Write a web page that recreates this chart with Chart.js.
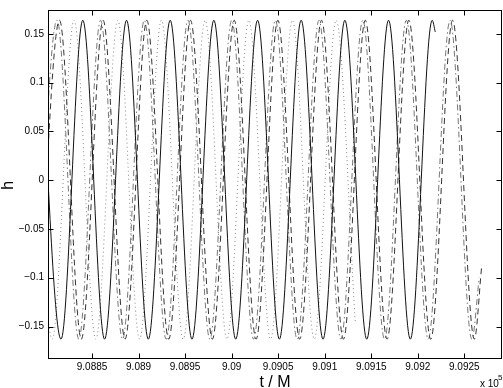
<!DOCTYPE html>
<html>
<head>
<meta charset="utf-8">
<script src="https://cdn.jsdelivr.net/npm/chart.js@4"></script>
<style>
  html, body { margin: 0; padding: 0; background: #fff; }
  canvas { display: block; }
</style>
</head>
<body>
<canvas id="myChart" width="503" height="388"></canvas>
<script>
// Extrema of each waveform (t in M, h)
const solidT = [908793.2, 908816.7, 908840.1, 908863.5, 908887.1, 908910.5, 908934.0, 908957.4, 908980.9, 909004.4,
                909027.9, 909051.3, 909074.7, 909098.2, 909121.7, 909145.2, 909168.6, 909192.0, 909215.5, 909218.8];
const solidH = [0.164, -0.163, 0.164, -0.163, 0.164, -0.163, 0.164, -0.163, 0.164, -0.163,
                0.164, -0.163, 0.164, -0.163, 0.164, -0.163, 0.164, -0.163, 0.164, 0.152];

const dashT = [908791.6, 908815.1, 908838.5, 908861.9, 908885.5, 908908.9, 908932.4, 908955.8, 908979.3, 909002.8, 909026.3,
               909049.7, 909073.1, 909096.6, 909120.1, 909143.6, 909167.0, 909190.4, 909213.9, 909237.4, 909260.8, 909268.5];
const dashH = [-0.163, 0.164, -0.163, 0.164, -0.163, 0.164, -0.163, 0.164, -0.163, 0.164, -0.163,
               0.164, -0.163, 0.164, -0.163, 0.164, -0.163, 0.164, -0.163, 0.164, -0.163, -0.09];

const dashDotT = [908788.9, 908812.4, 908835.8, 908859.2, 908882.8, 908906.2, 908929.7, 908953.1, 908976.6, 909000.1, 909023.6,
                  909047.0, 909070.4, 909093.9, 909117.4, 909140.9, 909164.3, 909187.7, 909211.2, 909234.7, 909258.1, 909266.0];
const dashDotH = [-0.163, 0.164, -0.163, 0.164, -0.163, 0.164, -0.163, 0.164, -0.163, 0.164, -0.163,
                  0.164, -0.163, 0.164, -0.163, 0.164, -0.163, 0.164, -0.163, 0.164, -0.163, -0.1];

const dotT = [908783.8, 908807.3, 908830.7, 908854.1, 908877.7, 908901.1, 908924.6, 908948.0, 908971.5, 908995.0,
              909018.5, 909041.9, 909065.3, 909088.8, 909112.3, 909132.8];
const dotH = [0.164, -0.163, 0.164, -0.163, 0.164, -0.163, 0.164, -0.163, 0.164, -0.163,
              0.164, -0.163, 0.164, -0.163, 0.164, -0.145];

// axis ticks
const xTicks = [908850, 908900, 908950, 909000, 909050, 909100, 909150, 909200, 909250];
const xTickLabels = ['9.0885', '9.089', '9.0895', '9.09', '9.0905', '9.091', '9.0915', '9.092', '9.0925'];
const yTicks = [-0.15, -0.1, -0.05, 0, 0.05, 0.1, 0.15];
const yTickLabels = ['\u22120.15', '\u22120.1', '\u22120.05', '0', '0.05', '0.1', '0.15'];

const FONT = 'Helvetica, "Liberation Sans", Arial, sans-serif';

const toPoints = (ts, hs) => ts.map((t, i) => ({ x: t, y: hs[i] }));

const series = (label, ts, hs, color, dash) => ({
    label: label,
    data: toPoints(ts, hs),
    borderColor: color,
    borderWidth: 1,
    borderDash: dash,
    pointRadius: 0,
    cubicInterpolationMode: 'monotone',
    fill: false
});

// MATLAB style box, inward ticks and axis labels
const matlabFrame = {
    id: 'matlabFrame',
    afterDraw(chart) {
        const { ctx, chartArea: a, scales: { x, y } } = chart;
        const L = Math.round(a.left) + 0.5, R = Math.round(a.right) - 0.5;
        const T = Math.round(a.top) + 0.5, B = Math.round(a.bottom) - 0.5;
        ctx.save();
        ctx.strokeStyle = '#000';
        ctx.lineWidth = 1;
        ctx.setLineDash([]);
        ctx.strokeRect(L, T, R - L, B - T);
        ctx.beginPath();
        xTicks.forEach(v => {
            const px = Math.round(x.getPixelForValue(v)) + 0.5;
            ctx.moveTo(px, B); ctx.lineTo(px, B - 5);
            ctx.moveTo(px, T); ctx.lineTo(px, T + 5);
        });
        yTicks.forEach(v => {
            const py = Math.round(y.getPixelForValue(v)) + 0.5;
            ctx.moveTo(L, py); ctx.lineTo(L + 5, py);
            ctx.moveTo(R, py); ctx.lineTo(R - 5, py);
        });
        ctx.stroke();

        ctx.fillStyle = '#000';
        ctx.font = '16px ' + FONT;
        ctx.textAlign = 'center';
        ctx.textBaseline = 'alphabetic';
        ctx.fillText('t / M', (a.left + a.right) / 2, 387);

        ctx.save();
        ctx.translate(13, (a.top + a.bottom) / 2 + 1);
        ctx.rotate(-Math.PI / 2);
        ctx.fillText('h', 0, 0);
        ctx.restore();

        ctx.textAlign = 'left';
        ctx.font = '10px ' + FONT;
        ctx.fillText('x 10', 480, 387);
        ctx.font = '8px ' + FONT;
        ctx.fillText('5', 498, 380);
        ctx.restore();
    }
};

const ctx = document.getElementById('myChart').getContext('2d');
const chart = new Chart(ctx, {
    type: 'line',
    data: {
        datasets: [
            series('solid', solidT, solidH, '#111', []),
            series('dashed', dashT, dashH, '#333', [6, 4]),
            series('dash-dot', dashDotT, dashDotH, '#777', [6, 3, 1.5, 3]),
            series('dotted', dotT, dotH, '#888', [1, 3])
        ]
    },
    options: {
        responsive: false,
        animation: false,
        devicePixelRatio: 1,
        layout: { padding: { top: 1, right: 1, left: 0, bottom: 0 } },
        plugins: { legend: { display: false }, tooltip: { enabled: false } },
        scales: {
            x: {
                type: 'linear',
                min: 908802.7,
                max: 909290.5,
                afterFit: s => { s.height = 29.5; },
                afterBuildTicks: s => { s.ticks = xTicks.map(v => ({ value: v })); },
                grid: { display: false, drawTicks: false },
                border: { display: false },
                ticks: {
                    padding: 3,
                    maxRotation: 0,
                    autoSkip: false,
                    color: '#000',
                    font: { family: FONT, size: 10 },
                    callback: v => xTickLabels[xTicks.indexOf(v)]
                }
            },
            y: {
                min: -0.1828,
                max: 0.1745,
                afterFit: s => { s.width = 48; },
                afterBuildTicks: s => { s.ticks = yTicks.map(v => ({ value: v })); },
                grid: { display: false, drawTicks: false },
                border: { display: false },
                ticks: {
                    padding: 4,
                    autoSkip: false,
                    color: '#000',
                    font: { family: FONT, size: 10 },
                    callback: v => yTickLabels[yTicks.indexOf(v)]
                }
            }
        }
    },
    plugins: [matlabFrame]
});
</script>
</body>
</html>
